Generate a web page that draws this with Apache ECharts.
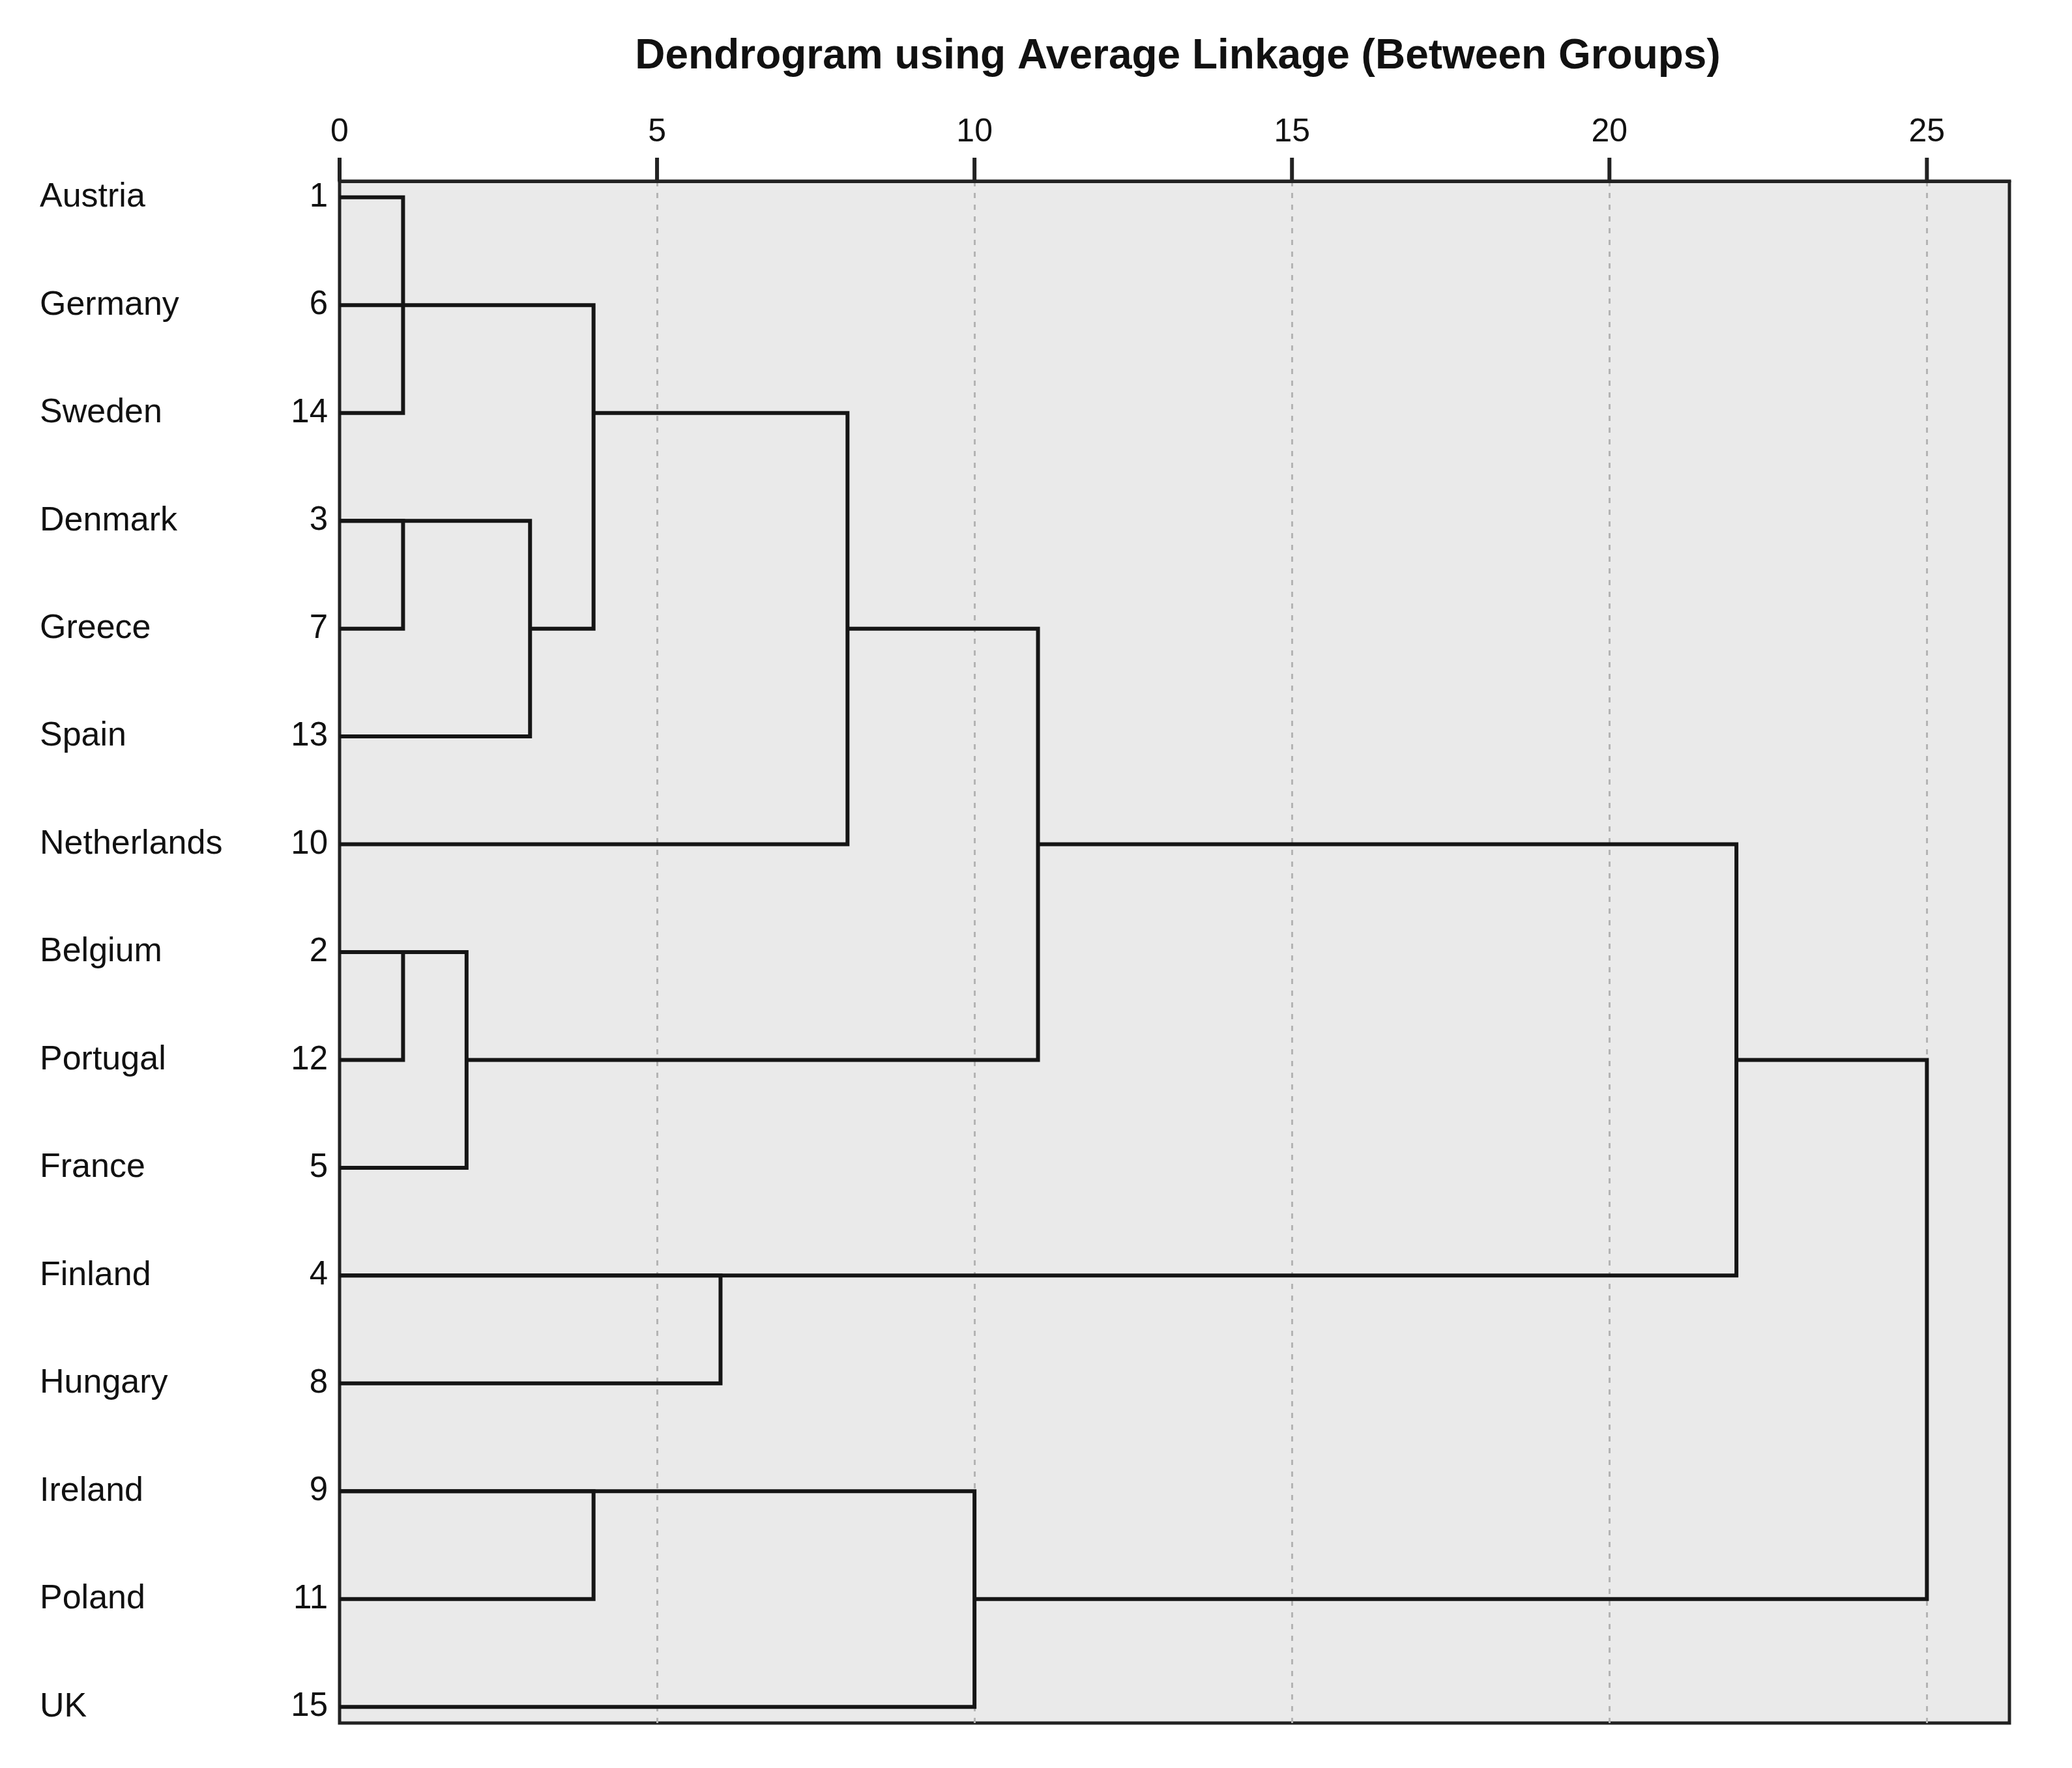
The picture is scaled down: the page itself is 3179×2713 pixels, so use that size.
<!DOCTYPE html>
<html>
<head>
<meta charset="utf-8">
<script src="https://cdn.jsdelivr.net/npm/echarts@6/dist/echarts.min.js"></script>
<style>
html,body{margin:0;padding:0;background:#fff;}
#chart{width:3179px;height:2713px;}
</style>
</head>
<body>
<div id="chart"></div>
<script>
// Leaves (top to bottom) and their case numbers
const countries = ['Austria','Germany','Sweden','Denmark','Greece','Spain','Netherlands','Belgium','Portugal','France','Finland','Hungary','Ireland','Poland','UK'];
const caseNumbers = [1,6,14,3,7,13,10,2,12,5,4,8,9,11,15];
// Each link: rescaled merge distance, upper row, lower row, start distance on upper row, start distance on lower row
const mergeHeight = [1,4,1,3,8,1,2,11,6,22,4,10,25];
const topRow      = [0,1,3,3,2,7,7,4,10,6,12,12,8];
const bottomRow   = [2,4,4,5,6,8,9,8,11,10,13,14,13];
const topFrom     = [0,0,0,0,4,0,0,8,0,11,0,0,22];
const bottomFrom  = [0,3,0,0,0,0,0,2,0,0,0,0,10];
const xTicks = [0,5,10,15,20,25];
const rowIdx = countries.map((c,i)=>i);

const links = mergeHeight.map((h,i)=>[h, topRow[i], bottomRow[i], topFrom[i], bottomFrom[i]]);
const FONT = 'Liberation Sans';
const Y_MIN = -0.15, Y_MAX = 14.15;

const chart = echarts.init(document.getElementById('chart'), null, {renderer:'canvas'});
chart.setOption({
  backgroundColor:'#ffffff',
  animation:false,
  title:{
    text:'Dendrogram using Average Linkage (Between Groups)',
    left:1802, top:50, textAlign:'center',
    textStyle:{fontFamily:FONT, fontSize:64, fontWeight:'bold', color:'#111'}
  },
  grid:{left:521, top:278, width:2562, height:2366, show:true,
        backgroundColor:'#eaeaea', borderColor:'#222', borderWidth:5},
  xAxis:{
    type:'value', position:'top', min:0, max:26.3,
    axisLine:{show:true, onZero:false, lineStyle:{color:'#222', width:5}},
    axisTick:{show:false},
    axisLabel:{customValues:xTicks, margin:50, fontFamily:FONT, fontSize:50, color:'#111'},
    splitLine:{show:true, showMinLine:false, showMaxLine:false, lineStyle:{color:'#b4b4b4', width:3, type:[8,10]}}
  },
  yAxis:[
    {type:'value', inverse:true, min:Y_MIN, max:Y_MAX, position:'left',
     axisLine:{show:false, onZero:false}, axisTick:{show:false}, splitLine:{show:false},
     axisLabel:{customValues:rowIdx, margin:18, fontFamily:FONT, fontSize:51, color:'#111',
       formatter:(v)=>String(caseNumbers[Math.round(v)])}},
    {type:'value', inverse:true, min:Y_MIN, max:Y_MAX, position:'left',
     axisLine:{show:false, onZero:false}, axisTick:{show:false}, splitLine:{show:false},
     axisLabel:{customValues:rowIdx, margin:460, align:'left', fontFamily:FONT, fontSize:52, color:'#111',
       formatter:(v)=>countries[Math.round(v)]}}
  ],
  series:[{
    type:'custom',
    coordinateSystem:'cartesian2d',
    xAxisIndex:0, yAxisIndex:0,
    data:links,
    encode:{x:[0,3,4], y:[1,2]},
    renderItem:function(params, api){
      const h = api.value(0), tr = api.value(1), br = api.value(2), tf = api.value(3), bf = api.value(4);
      const pts = [api.coord([tf,tr]), api.coord([h,tr]), api.coord([h,br]), api.coord([bf,br])];
      return {type:'polyline', shape:{points:pts}, style:{stroke:'#151515', lineWidth:6, fill:null, lineJoin:'miter'}};
    }
  }]
});

// axis ticks above the top border, positioned through the axis scale
const yTop = chart.convertToPixel({yAxisIndex:0}, Y_MIN);
chart.setOption({
  graphic: xTicks.map(v => {
    const px = chart.convertToPixel({xAxisIndex:0}, v);
    return {type:'rect', z:10, silent:true,
      shape:{x:px-3, y:yTop-36, width:6, height:36},
      style:{fill:'#222'}};
  })
});
</script>
</body>
</html>
